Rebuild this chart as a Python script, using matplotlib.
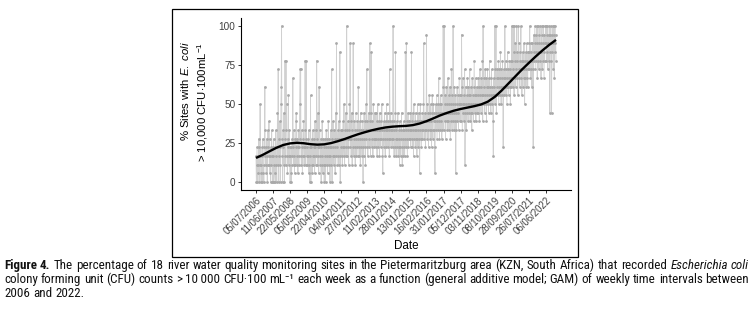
import numpy as np
import matplotlib
matplotlib.use("Agg")
import matplotlib.pyplot as plt
from matplotlib import font_manager as fm
from matplotlib.patches import Rectangle

# ---------------- data ----------------
n_sites = 18
tick_labels = ["05/07/2006", "11/06/2007", "22/05/2008", "05/05/2009", "22/04/2010",
               "04/04/2011", "27/02/2012", "11/02/2013", "28/01/2014", "13/01/2015",
               "16/02/2016", "31/01/2017", "05/12/2017", "03/11/2018", "08/10/2019",
               "28/09/2020", "26/07/2021", "06/06/2022"]
tick_step = 50  # weeks between labelled dates

# weekly counts of sites (out of 18) above threshold, in blocks of 50 weeks
b00 = [3,0,2,4,0,3,1,2,5,0,4,2,9,3,1,0,2,4,0,3,5,1,2,0,4,6,11,3,2,4,1,5,3,0,2,6,4,3,7,2,5,1,3,0,4,2,6,3,0,4]
b01 = [0,3,5,0,2,4,1,0,6,3,2,0,4,8,2,13,3,0,5,2,7,4,0,9,11,18,5,3,0,6,4,2,8,0,3,14,5,2,14,6,9,3,1,5,4,10,2,6,3,4]
b02 = [0,3,1,4,0,2,5,3,12,4,2,6,3,1,5,2,4,7,8,3,2,5,4,1,6,3,2,4,9,13,5,13,3,2,6,4,1,3,5,7,4,2,3,6,14,4,2,14,5,3]
b03 = [4,2,5,3,1,6,2,4,0,3,10,0,4,2,5,1,3,6,2,4,3,5,1,7,4,2,6,3,14,5,2,4,8,3,1,11,4,6,2,3,5,0,4,2,7,3,1,5,2,4]
b04 = [0,3,5,2,0,4,6,2,3,5,1,4,7,3,2,5,4,0,3,6,2,4,13,0,5,3,7,4,2,6,3,5,1,4,8,3,16,5,2,4,6,3,7,2,5,3,15,0,6,4]
b05 = [5,3,6,2,4,7,5,3,9,4,2,6,5,8,3,4,18,6,3,5,7,4,2,6,9,5,16,4,7,3,5,8,2,6,4,16,5,3,7,4,6,2,5,8,3,6,4,7,5,3]
b06 = [11,4,6,3,7,5,2,8,4,6,3,5,7,4,0,6,3,8,5,4,7,2,6,9,5,13,4,7,3,6,8,5,4,7,16,6,3,8,15,5,4,7,6,3,9,5,6,4,8,5]
b07 = [6,4,8,5,7,3,6,9,5,4,7,6,3,8,5,6,4,7,5,9,6,3,1,5,7,4,6,8,5,3,7,6,4,9,5,6,8,4,7,5,6,3,13,7,5,8,4,6,5,7]
b08 = [6,4,18,5,7,3,6,4,8,15,5,3,6,7,4,5,8,3,6,4,5,2,7,4,3,6,5,8,4,2,6,5,3,7,4,6,3,5,15,6,4,16,7,5,3,6,8,4,7,5]
b09 = [7,5,6,8,4,6,15,5,7,4,8,6,3,9,5,7,6,4,8,5,6,7,3,5,9,6,4,7,8,5,1,6,9,5,7,4,6,8,5,7,6,9,16,5,7,6,8,4,7,6]
b10 = [17,7,5,9,6,8,4,7,10,6,8,5,9,7,6,4,8,10,6,5,9,7,8,6,4,1,7,9,6,8,10,5,7,9,6,8,12,7,5,9,8,6,10,7,9,5,8,6,11,18]
b11 = [8,6,18,9,7,10,5,8,11,7,9,6,8,12,7,10,6,9,8,11,5,7,9,13,8,6,10,7,18,9,8,6,11,7,9,10,1,8,6,9,11,7,10,8,6,9,12,7,10,9]
b12 = [9,7,10,17,11,6,9,12,8,10,7,9,13,2,8,11,9,6,10,8,12,9,7,11,10,8,9,13,7,10,8,11,9,6,12,8,10,9,7,11,14,8,10,9,12,7,10,8,11,9]
b13 = [10,8,12,9,11,7,10,13,9,11,8,12,10,9,14,7,18,10,12,9,11,8,13,10,9,12,7,11,10,13,9,11,8,12,10,14,9,11,10,8,12,13,9,11,10,7,3,12,10,11]
b14 = [18,9,13,10,18,8,12,11,13,10,12,14,9,11,13,10,12,15,11,9,13,12,10,14,11,4,12,13,10,11,18,12,14,10,13,11,9,12,15,11,13,10,12,14,11,13,9,12,14,11]
b15 = [18,12,14,11,18,13,15,10,18,12,14,16,11,13,18,12,15,14,10,18,13,16,12,14,11,15,13,18,12,14,10,13,15,11,14,12,16,13,9,14,12,15,11,13,16,12,14,11,15,13]
b16 = [15,13,16,18,14,12,16,13,15,11,14,16,13,4,15,17,14,16,18,13,15,17,14,18,16,12,15,18,14,16,13,17,15,18,14,16,12,15,17,18,13,16,14,18,15,12,17,14,16,18]
b17 = [16,18,14,17,15,18,13,16,17,14,18,15,8,17,16,18,14,8,17,15,18,16,13,18,17,12,16,18,15,17,14]

# GAM fit (week index, % sites)
gam_week = [0, 20, 40, 60, 80, 100, 120, 140, 160, 180, 200, 220, 240, 260, 280, 300,
            320, 340, 360, 380, 400, 420, 440, 460, 480, 500, 520, 540, 560, 580, 600,
            620, 640, 660, 680, 700, 720, 740, 760, 780, 800, 820, 840, 860, 880]
gam_pct = [15.5, 17.5, 19.8, 22.0, 23.8, 24.8, 25.2, 24.9, 24.3, 24.0, 24.2, 25.0, 26.2,
           27.6, 29.2, 30.7, 32.0, 33.2, 34.2, 35.0, 35.5, 35.8, 36.0, 36.5, 37.5, 39.0,
           40.8, 42.7, 44.3, 45.7, 46.8, 47.7, 48.6, 49.7, 51.5, 54.5, 58.5, 63.0, 67.5,
           72.0, 76.2, 80.3, 84.2, 87.8, 91.0]

# ---------------- fonts ----------------
def has_font(name):
    try:
        fm.findfont(fm.FontProperties(family=name), fallback_to_default=False)
        return True
    except Exception:
        return False

axis_font = "Liberation Sans" if has_font("Liberation Sans") else "DejaVu Sans"
cap_font = next((f for f in ["Liberation Sans Narrow", "Roboto Condensed", "Open Sans Condensed",
                             "Liberation Sans"] if has_font(f)), "DejaVu Sans")

plt.rcParams["font.family"] = [axis_font, "DejaVu Sans"]
plt.rcParams["mathtext.fontset"] = "custom"
plt.rcParams["mathtext.rm"] = axis_font
plt.rcParams["mathtext.it"] = axis_font + ":italic"
plt.rcParams["mathtext.bf"] = axis_font + ":bold"

# ---------------- figure ----------------
W, H = 754, 318
fig = plt.figure(figsize=(W / 100, H / 100), dpi=100)

def fx(px):
    return px / W

def fy(py):
    return 1 - py / H

counts = np.array(b00 + b01 + b02 + b03 + b04 + b05 + b06 + b07 + b08 + b09 +
                  b10 + b11 + b12 + b13 + b14 + b15 + b16 + b17, dtype=float)
pct = counts / n_sites * 100
weeks = np.arange(len(pct))

ax_l, ax_r, ax_t, ax_b = 241, 571, 18, 190
ax = fig.add_axes([fx(ax_l), fy(ax_b), (ax_r - ax_l) / W, (ax_b - ax_t) / H])

ax.plot(weeks, pct, color="#d0d0d0", lw=0.6, zorder=1)
ax.plot(weeks, pct, "o", ms=2.0, color="#a9a9a9", mec="none", zorder=2)
ax.plot(gam_week, gam_pct, color="black", lw=1.7, zorder=3, solid_capstyle="butt")

span = weeks[-1] - weeks[0]
ax.set_xlim(weeks[0] - 0.05 * span, weeks[-1] + 0.05 * span)
ax.set_ylim(-5, 105)
ax.set_yticks([0, 25, 50, 75, 100])
ax.set_xticks(np.arange(len(tick_labels)) * tick_step)
ax.set_xticklabels(tick_labels, rotation=45, ha="right", va="top", rotation_mode="anchor")
for s in ["top", "right"]:
    ax.spines[s].set_visible(False)
for s in ["left", "bottom"]:
    ax.spines[s].set_linewidth(0.8)
ax.tick_params(axis="both", length=2.5, width=0.7, color="#333333", labelcolor="#404040", pad=1.5)
ax.tick_params(axis="y", labelsize=7.2)
ax.tick_params(axis="x", labelsize=6.9)
ax.set_facecolor("white")

# axis titles
fig.text(fx(406), fy(246), "Date", ha="center", va="center", fontsize=8.4)
fig.text(fx(185), fy(91), r"% Sites with $\mathit{E.\ coli}$", rotation=90,
         ha="center", va="center", fontsize=8.2)
fig.text(fx(203), fy(102), r"> 10,000 CFU$\cdot$100mL$^{-1}$", rotation=90,
         ha="center", va="center", fontsize=8.2)

# frame around the chart image
fig.patches.append(Rectangle((fx(172), fy(257)), (578 - 172) / W, (257 - 9) / H,
                             transform=fig.transFigure, fill=False, lw=0.9, ec="black"))

# ---------------- caption (justified) ----------------
cap_lines = [
    [("Figure 4.", "bold", "normal"),
     ("The percentage of 18 river water quality monitoring sites in the Pietermaritzburg area (KZN, South Africa) that recorded", "normal", "normal"),
     ("Escherichia coli", "normal", "italic")],
    [("colony forming unit (CFU) counts > 10\u2009000 CFU\u00b7100 mL\u207b\u00b9 each week as a function (general additive model; GAM) of weekly time intervals between", "normal", "normal")],
    [("2006 and 2022.", "normal", "normal")],
]
cap_justify = [True, True, False]
cap_baselines = [269, 283, 297]
cap_left, cap_right = 4, 749

renderer = fig.canvas.get_renderer()
fam = [cap_font, "DejaVu Sans"]

def text_width(txt, size, weight, style):
    t = fig.text(0, 0, "|" + txt + "|", fontsize=size, weight=weight, style=style, family=fam)
    w = t.get_window_extent(renderer).width
    t.remove()
    t2 = fig.text(0, 0, "||", fontsize=size, weight=weight, style=style, family=fam)
    w2 = t2.get_window_extent(renderer).width
    t2.remove()
    return w - w2

def tokens(line):
    out = []
    for txt, wt, st in line:
        for wd in txt.split(" "):
            out.append((wd, wt, st))
    return out

base_size = 10.0
target = cap_right - cap_left
fits = []
for line in cap_lines[:2]:
    toks = tokens(line)
    total = sum(text_width(w, base_size, wt, st) for w, wt, st in toks)
    total += (len(toks) - 1) * text_width(" ", base_size, "normal", "normal")
    fits.append(base_size * target / total)
cap_size = min(fits) * 0.995
space_w = text_width(" ", cap_size, "normal", "normal")

for line, base, just in zip(cap_lines, cap_baselines, cap_justify):
    toks = tokens(line)
    widths = [text_width(w, cap_size, wt, st) for w, wt, st in toks]
    gap = (target - sum(widths)) / (len(toks) - 1) if just and len(toks) > 1 else space_w
    x = cap_left
    for (wd, wt, st), wdt in zip(toks, widths):
        fig.text(fx(x), fy(base), wd, fontsize=cap_size, weight=wt, style=st,
                 family=fam, ha="left", va="baseline", color="#111111")
        x += wdt + gap

fig.savefig("out.png", dpi=100, facecolor="white")
